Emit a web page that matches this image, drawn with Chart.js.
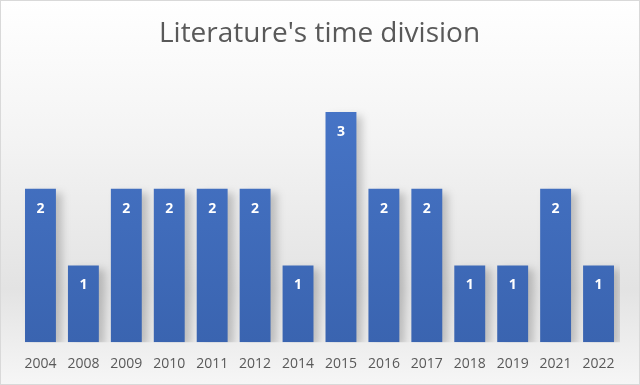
<!DOCTYPE html>
<html>
<head>
<meta charset="utf-8">
<script src="https://cdn.jsdelivr.net/npm/chart.js@4"></script>
<style>
  html, body { margin: 0; padding: 0; background: #fff; }
  #wrap { width: 640px; height: 385px; position: relative; }
</style>
</head>
<body>
<div id="wrap"><canvas id="timeChart" width="640" height="385"></canvas></div>
<script>
const years = ["2004", "2008", "2009", "2010", "2011", "2012", "2014", "2015", "2016", "2017", "2018", "2019", "2021", "2022"];
const counts = [2, 1, 2, 2, 2, 2, 1, 3, 2, 2, 1, 1, 2, 1];
const chartTitle = "Literature's time division";

// background gradient + thin frame
const backdrop = {
  id: "backdrop",
  beforeDraw(chart) {
    const ctx = chart.ctx;
    const w = chart.width, h = chart.height;
    const g = ctx.createLinearGradient(0, 0, 0, h);
    g.addColorStop(0, "#ffffff");
    g.addColorStop(0.35, "#f4f4f4");
    g.addColorStop(0.75, "#e3e3e3");
    g.addColorStop(1, "#f6f6f6");
    ctx.save();
    ctx.fillStyle = g;
    ctx.fillRect(0, 0, w, h);
    ctx.strokeStyle = "#d9d9d9";
    ctx.lineWidth = 1;
    ctx.strokeRect(0.5, 0.5, w - 1, h - 1);
    ctx.restore();
  },
  beforeDatasetsDraw(chart) {
    const ctx = chart.ctx;
    ctx.save();
    ctx.shadowColor = "rgba(0,0,0,0.2)";
    ctx.shadowBlur = 8;
    ctx.shadowOffsetX = 6;
    ctx.shadowOffsetY = 4;
  },
  afterDatasetsDraw(chart) {
    const ctx = chart.ctx;
    ctx.restore();
    // value labels inside top of bars
    const meta = chart.getDatasetMeta(0);
    ctx.save();
    ctx.fillStyle = "#ffffff";
    ctx.font = "bold 14px 'Open Sans', sans-serif";
    ctx.textAlign = "center";
    ctx.textBaseline = "middle";
    meta.data.forEach((bar, i) => {
      ctx.fillText(String(counts[i]), bar.x, bar.y + 20);
    });
    ctx.restore();
  }
};

const ctx = document.getElementById("timeChart").getContext("2d");
const barFill = ctx.createLinearGradient(0, 110, 0, 342);
barFill.addColorStop(0, "#4674c6");
barFill.addColorStop(1, "#3a64b0");

new Chart(ctx, {
  type: "bar",
  data: {
    labels: years,
    datasets: [
      {
        data: counts,
        backgroundColor: barFill,
        borderWidth: 0,
        barPercentage: 0.72,
        categoryPercentage: 1,
      },
    ],
  },
  options: {
    responsive: false,
    animation: false,
    layout: { padding: { left: 19, right: 20, top: 0, bottom: 8 } },
    plugins: {
      legend: { display: false },
      tooltip: { enabled: false },
      title: {
        display: true,
        text: chartTitle,
        color: "#595959",
        font: { family: "'Open Sans', sans-serif", size: 28, weight: "normal" },
        padding: { top: 17, bottom: 23 },
      },
    },
    scales: {
      x: {
        grid: { display: false },
        border: { display: false },
        ticks: {
          color: "#595959",
          font: { family: "'Open Sans', sans-serif", size: 14 },
          padding: 5,
          maxRotation: 0,
        },
      },
      y: {
        display: false,
        min: 0,
        max: 3.5,
      },
    },
  },
  plugins: [backdrop],
});
</script>
</body>
</html>
